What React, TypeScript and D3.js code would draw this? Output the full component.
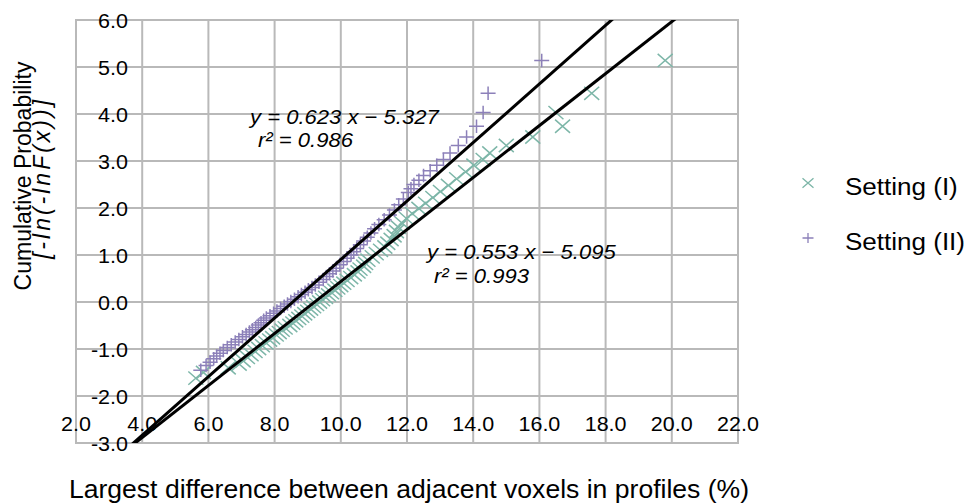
import React from 'react';
import * as d3 from 'd3';

// Setting (I) — plotted with ×
const set1X = [5.62, 5.85, 6.6, 6.93, 7.05, 7.18, 7.29, 7.41, 7.52, 7.63, 7.74, 7.85, 7.94, 8.05, 8.14, 8.23, 8.32, 8.46, 8.55, 8.64,
  8.73, 8.82, 8.91, 9.0, 9.09, 9.18, 9.27, 9.36, 9.45, 9.54, 9.63, 9.72, 9.82, 9.91, 10.0, 10.09, 10.19, 10.3, 10.41, 10.52,
  10.58, 10.69, 10.75, 10.82, 10.95, 11.07, 11.2, 11.33, 11.42, 11.52, 11.61, 11.68, 11.74, 11.85, 11.98, 12.16, 12.36, 12.56, 12.78, 13.01,
  13.25, 13.5, 13.77, 14.02, 14.3, 14.5, 15.0, 15.8, 16.7, 16.5, 17.58, 19.8];
const set1Y = [-1.62, -1.5, -1.4, -1.32, -1.25, -1.18, -1.12, -1.05, -0.99, -0.93, -0.87, -0.81, -0.76, -0.7, -0.65, -0.6, -0.55, -0.5, -0.45, -0.4,
  -0.35, -0.3, -0.25, -0.2, -0.15, -0.1, -0.05, 0.0, 0.05, 0.1, 0.15, 0.2, 0.25, 0.3, 0.35, 0.4, 0.46, 0.52, 0.58, 0.64,
  0.7, 0.76, 0.82, 0.89, 0.96, 1.03, 1.1, 1.17, 1.25, 1.33, 1.41, 1.5, 1.59, 1.68, 1.78, 1.88, 1.99, 2.1, 2.22, 2.35,
  2.48, 2.62, 2.77, 2.91, 3.03, 3.17, 3.33, 3.51, 3.74, 4.03, 4.44, 5.14];

// Setting (II) — plotted with +
const set2X = [5.77, 5.93, 6.05, 6.16, 6.25, 6.35, 6.45, 6.57, 6.69, 6.81, 6.92, 7.03, 7.14, 7.24, 7.33, 7.43, 7.51, 7.59, 7.67, 7.75,
  7.86, 7.97, 8.07, 8.18, 8.29, 8.39, 8.49, 8.6, 8.71, 8.81, 8.92, 9.02, 9.13, 9.23, 9.34, 9.47, 9.57, 9.66, 9.76, 9.86,
  9.97, 10.08, 10.19, 10.31, 10.39, 10.48, 10.59, 10.69, 10.8, 10.91, 11.02, 11.15, 11.31, 11.47, 11.62, 11.75, 11.89, 12.04, 12.12, 12.21,
  12.36, 12.5, 12.7, 12.9, 13.1, 13.3, 13.55, 13.8, 14.1, 14.3, 14.45, 16.07];
const set2Y = [-1.45, -1.35, -1.28, -1.21, -1.15, -1.09, -1.03, -0.97, -0.91, -0.85, -0.8, -0.74, -0.69, -0.64, -0.59, -0.54, -0.49, -0.44, -0.39, -0.34,
  -0.29, -0.24, -0.19, -0.14, -0.09, -0.04, 0.01, 0.06, 0.11, 0.16, 0.21, 0.26, 0.31, 0.36, 0.42, 0.48, 0.54, 0.6, 0.66, 0.72,
  0.79, 0.86, 0.93, 1.0, 1.07, 1.14, 1.22, 1.3, 1.38, 1.47, 1.56, 1.65, 1.75, 1.85, 1.96, 2.07, 2.19, 2.33, 2.41, 2.5,
  2.59, 2.69, 2.79, 2.91, 3.03, 3.17, 3.33, 3.51, 3.74, 4.03, 4.44, 5.14];

// trend lines: [slope, intercept, r²]
const fit1 = [0.553, -5.095, 0.993];
const fit2 = [0.623, -5.327, 0.986];

const xTicks = [2, 4, 6, 8, 10, 12, 14, 16, 18, 20, 22];
const yTicks = [-3, -2, -1, 0, 1, 2, 3, 4, 5, 6];
const legendLabels = ['Setting (I)', 'Setting (II)'];

const W = 969, H = 504;
const L = 76, R = 738, T = 20, B = 443;
const SX = 1.05; // text in the source is a little stretched horizontally
const FONT = 'Liberation Sans, Arial, sans-serif';
const TEAL = '#7db6a8';
const PURPLE = '#8c80b9';
const GRID = '#b9b9b9';

const fmt = (v: number) => d3.format('.1f')(v).replace('−', '-');

function Txt({ x, y, size, anchor = 'start', italic = false, children }: any) {
  return (
    <text transform={`translate(${x},${y}) scale(${SX},1)`} fontSize={size} textAnchor={anchor}
      fontStyle={italic ? 'italic' : 'normal'} fill="#000">{children}</text>
  );
}

function Cross({ x, y, s, color, w = 1.5 }: any) {
  return <path d={`M${x - s},${y - s * 0.88}L${x + s},${y + s * 0.88}M${x - s},${y + s * 0.88}L${x + s},${y - s * 0.88}`} stroke={color} strokeWidth={w} fill="none" />;
}
function Plus({ x, y, s, color, w = 1.5 }: any) {
  return <path d={`M${x - s},${y}L${x + s},${y}M${x},${y - s * 0.9}L${x},${y + s * 0.9}`} stroke={color} strokeWidth={w} fill="none" />;
}

export default function App() {
  const x = d3.scaleLinear().domain([2, 22]).range([L, R]);
  const y = d3.scaleLinear().domain([-3, 6]).range([B, T]);

  const fitLine = (f: number[]) => {
    const line = d3.line<number>().x(d => x(d)).y(d => y(f[0] * d + f[1]));
    return line([2, 22]) as string;
  };

  return (
    <svg width={W} height={H} style={{ position: 'absolute', left: 0, top: 0, fontFamily: FONT }}>
      <defs>
        <clipPath id="plot"><rect x={L} y={T} width={R - L} height={B - T} /></clipPath>
      </defs>
      <rect width={W} height={H} fill="#fff" />
      {/* grid */}
      {xTicks.map(t => <line key={'gx' + t} x1={x(t)} x2={x(t)} y1={T} y2={B} stroke={GRID} strokeWidth={2} />)}
      {yTicks.map(t => <line key={'gy' + t} x1={L} x2={R} y1={y(t)} y2={y(t)} stroke={GRID} strokeWidth={2} />)}
      <rect x={L} y={T} width={R - L} height={B - T} fill="none" stroke={GRID} strokeWidth={2} />

      {/* points */}
      <g clipPath="url(#plot)">
        {set1X.map((v, i) => <Cross key={'a' + i} x={x(v)} y={y(set1Y[i])} s={7.5} color={TEAL} />)}
        {set2X.map((v, i) => <Plus key={'b' + i} x={x(v)} y={y(set2Y[i])} s={7.5} color={PURPLE} />)}
        <path d={fitLine(fit1)} stroke="#000" strokeWidth={3} fill="none" />
        <path d={fitLine(fit2)} stroke="#000" strokeWidth={3} fill="none" />
      </g>

      {/* tick labels */}
      {yTicks.map(t => <Txt key={'ty' + t} x={128} y={y(t) + 7.5} size={20.5} anchor="end">{fmt(t)}</Txt>)}
      {xTicks.map(t => <Txt key={'tx' + t} x={x(t)} y={431} size={20.5} anchor="middle">{fmt(t)}</Txt>)}

      {/* equations */}
      <Txt x={250} y={124} size={21} italic>{`y = ${fit2[0].toFixed(3)} x − ${Math.abs(fit2[1]).toFixed(3)}`}</Txt>
      <Txt x={258} y={147} size={21} italic>{`r² = ${fit2[2].toFixed(3)}`}</Txt>
      <Txt x={427} y={259} size={21} italic>{`y = ${fit1[0].toFixed(3)} x − ${Math.abs(fit1[1]).toFixed(3)}`}</Txt>
      <Txt x={434} y={283} size={21} italic>{`r² = ${fit1[2].toFixed(3)}`}</Txt>

      {/* axis titles */}
      <Txt x={409} y={498} size={25.3} anchor="middle">Largest difference between adjacent voxels in profiles (%)</Txt>
      <text transform={`translate(31,176) rotate(-90) scale(1,${SX})`} fontSize={23} textAnchor="middle" fill="#000">Cumulative Probability</text>
      <text transform={`translate(50,178) rotate(-90) scale(1,${SX})`} fontSize={23} letterSpacing={3} textAnchor="middle" fontStyle="italic" fill="#000">[-ln(-lnF(x))]</text>

      {/* legend */}
      <Cross x={808} y={183} s={5.5} color={TEAL} w={1.3} />
      <Txt x={845} y={195} size={24.8}>{legendLabels[0]}</Txt>
      <Plus x={808} y={238} s={5.5} color={PURPLE} w={1.3} />
      <Txt x={845} y={250} size={24.8}>{legendLabels[1]}</Txt>
    </svg>
  );
}
